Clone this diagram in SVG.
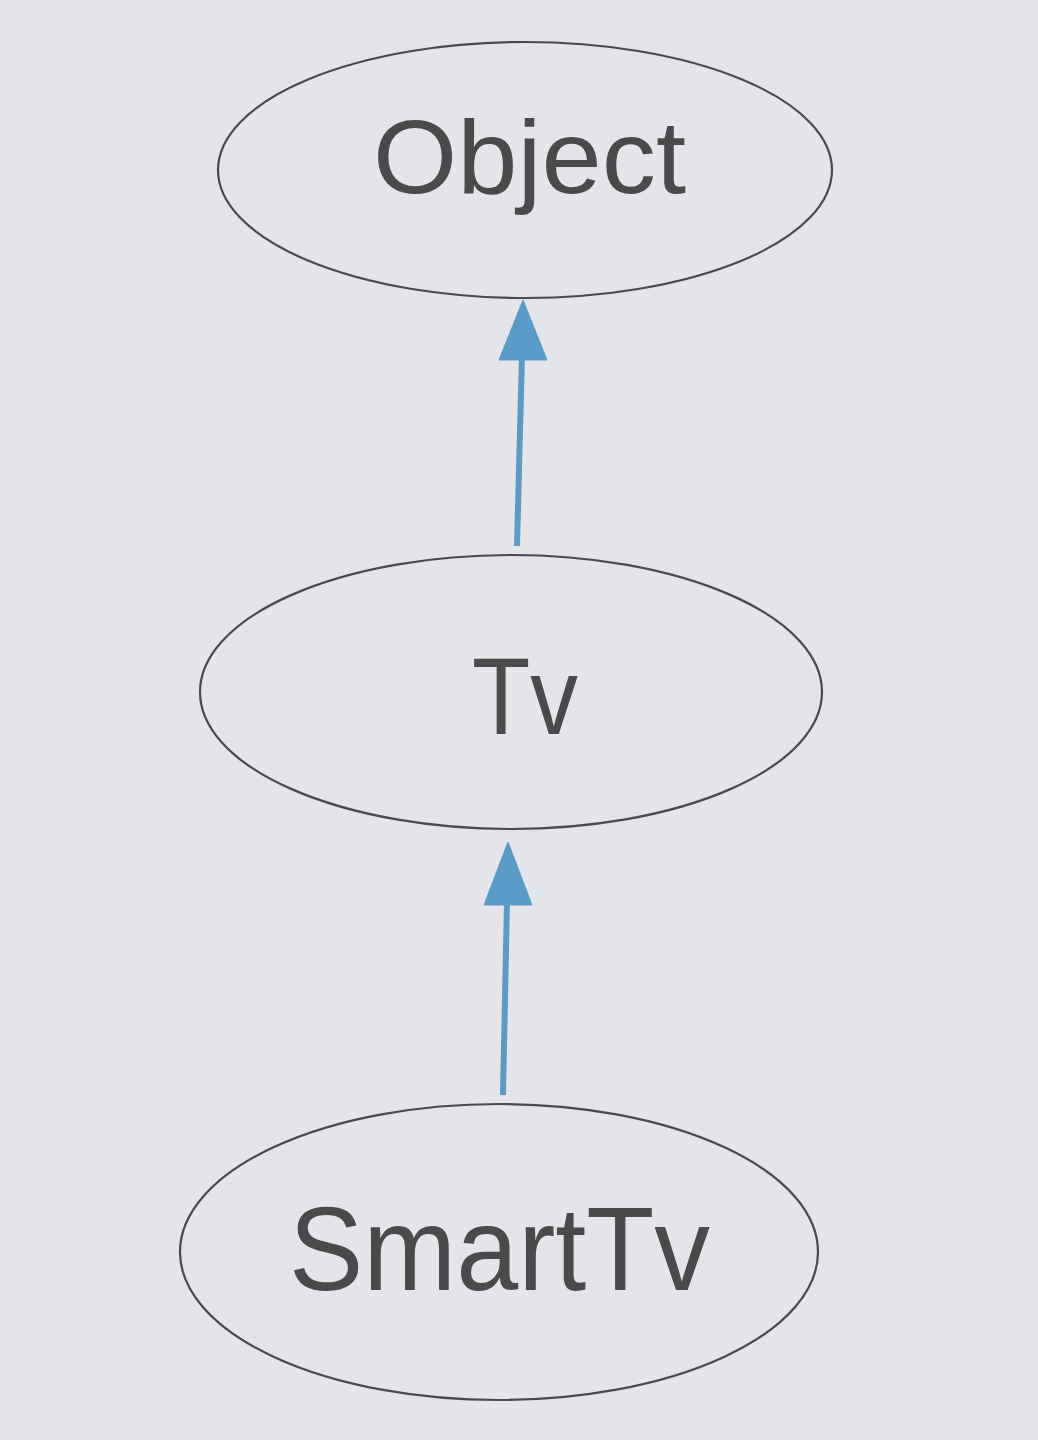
<svg xmlns="http://www.w3.org/2000/svg" width="1038" height="1440" viewBox="0 0 1038 1440">
<style>
.node{fill:none;stroke:#4a4a4a;stroke-width:2.2}
.lbl{font-family:"Liberation Sans",Arial,sans-serif;fill:#4a4a4a;text-anchor:start}
.edge{stroke:#5a9bc8;stroke-width:6;fill:none}
.head{fill:#5a9bc8;stroke:#5a9bc8;stroke-width:1;stroke-linejoin:round}
</style>
<rect x="0" y="0" width="1038" height="1440" fill="#e4e5ea"/>
<g id="object">
<ellipse class="node" cx="525" cy="170" rx="307" ry="128"/>
<text class="lbl" x="373" y="193" font-size="104" textLength="313" lengthAdjust="spacingAndGlyphs">Object</text>
</g>
<g id="tv">
<ellipse class="node" cx="511" cy="692" rx="311" ry="137"/>
<text class="lbl" x="472" y="734" font-size="110" textLength="106" lengthAdjust="spacingAndGlyphs">Tv</text>
</g>
<g id="smarttv">
<ellipse class="node" cx="499" cy="1252" rx="319" ry="148"/>
<text class="lbl" x="289" y="1290" font-size="118" textLength="421" lengthAdjust="spacingAndGlyphs">SmartTv</text>
</g>
<g id="connectors">
<line class="edge" x1="517" y1="546" x2="522" y2="355"/>
<polygon class="head" points="523,300 547,360 499,360"/>
<line class="edge" x1="503" y1="1095" x2="507" y2="900"/>
<polygon class="head" points="508,842 532,905 484,905"/>
</g>
</svg>
